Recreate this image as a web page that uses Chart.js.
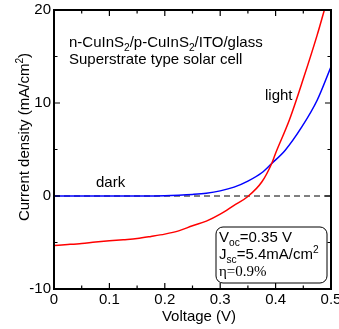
<!DOCTYPE html>
<html>
<head>
<meta charset="utf-8">
<script src="https://cdn.jsdelivr.net/npm/chart.js@4"></script>
<style>
  html, body { margin: 0; padding: 0; background: #fff; }
  #wrap { width: 339px; height: 329px; }
</style>
</head>
<body>
<div id="wrap"><canvas id="ivChart" width="339" height="329"></canvas></div>
<script>
// light (illuminated) J-V curve
const lightV = [0, 0.025, 0.05, 0.075, 0.1, 0.125, 0.15, 0.175, 0.2, 0.225, 0.25, 0.275, 0.3, 0.325, 0.35, 0.375, 0.393, 0.4, 0.425, 0.45, 0.475, 0.488];
const lightJ = [-5.33, -5.22, -5.1, -4.95, -4.82, -4.7, -4.57, -4.35, -4.1, -3.75, -3.2, -2.7, -1.95, -1.0, -0.05, 1.5, 3.5, 4.6, 8.2, 12.6, 17.3, 20];

// dark J-V curve
const darkV = [0, 0.1, 0.2, 0.225, 0.25, 0.275, 0.3, 0.325, 0.35, 0.375, 0.393, 0.417, 0.447, 0.475, 0.5];
const darkJ = [0, 0, 0.04, 0.09, 0.17, 0.3, 0.55, 0.95, 1.6, 2.5, 3.5, 4.9, 7.4, 10.3, 13.9];

// dashed zero reference
const zeroV = [0, 0.5];
const zeroJ = [0, 0];

const xMajor = [0, 0.1, 0.2, 0.3, 0.4, 0.5];
const xMinor = [0.05, 0.15, 0.25, 0.35, 0.45];
const yMajor = [-10, 0, 10, 20];
const yMinor = [-5, 5, 15];

const toPoints = (xs, ys) => xs.map((x, i) => ({ x: x, y: ys[i] }));

const SANS = "'Liberation Sans', Arial, sans-serif";
const SERIF = "'Liberation Serif', 'Times New Roman', serif";

function partStyle(p, size) {
  if (p.sub) return { s: size * 0.68, dy: size * 0.28 };
  if (p.sup) return { s: size * 0.68, dy: -size * 0.42 };
  return { s: size, dy: 0 };
}

// draws a run of text pieces, some of them sub/superscript; returns width
function richText(ctx, parts, x, y, size, family, centred) {
  let w = 0;
  parts.forEach((p) => {
    ctx.font = partStyle(p, size).s + "px " + family;
    w += ctx.measureText(p.t).width;
  });
  let cx = centred ? x - w / 2 : x;
  parts.forEach((p) => {
    const st = partStyle(p, size);
    ctx.font = st.s + "px " + family;
    ctx.fillText(p.t, cx, y + st.dy);
    cx += ctx.measureText(p.t).width;
  });
  return w;
}

const framePlugin = {
  id: "frame",
  afterDraw(chart) {
    const { ctx, chartArea: a, scales: { x, y } } = chart;
    ctx.save();
    ctx.strokeStyle = "#000";
    ctx.lineWidth = 2;
    ctx.strokeRect(a.left, a.top, a.right - a.left, a.bottom - a.top);

    ctx.lineWidth = 1.2;
    ctx.beginPath();
    const tickX = (v, len) => {
      const px = x.getPixelForValue(v);
      ctx.moveTo(px, a.bottom); ctx.lineTo(px, a.bottom - len);
      ctx.moveTo(px, a.top); ctx.lineTo(px, a.top + len);
    };
    const tickY = (v, len) => {
      const py = y.getPixelForValue(v);
      ctx.moveTo(a.left, py); ctx.lineTo(a.left + len, py);
      ctx.moveTo(a.right, py); ctx.lineTo(a.right - len, py);
    };
    xMajor.forEach((v) => tickX(v, 6));
    xMinor.forEach((v) => tickX(v, 3.5));
    yMajor.forEach((v) => tickY(v, 6));
    yMinor.forEach((v) => tickY(v, 3.5));
    ctx.stroke();

    // axis titles
    ctx.fillStyle = "#000";
    ctx.textBaseline = "alphabetic";
    ctx.textAlign = "left";
    richText(ctx, [{ t: "Voltage (V)" }], 199, 321, 15, SANS, true);
    ctx.save();
    ctx.translate(24, 137);
    ctx.rotate(-Math.PI / 2);
    richText(ctx, [{ t: "Current density (mA/cm" }, { t: "2", sup: true }, { t: ")" }], 0, 5, 15, SANS, true);
    ctx.restore();

    // labels
    richText(ctx, [{ t: "n-CuInS" }, { t: "2", sub: true }, { t: "/p-CuInS" }, { t: "2", sub: true }, { t: "/ITO/glass" }], 69, 47, 15, SANS);
    richText(ctx, [{ t: "Superstrate type solar cell" }], 69, 64, 15, SANS);
    richText(ctx, [{ t: "light" }], 265, 100, 15, SANS);
    richText(ctx, [{ t: "dark" }], 96, 187, 15, SANS);

    // result box
    const bx = 216, by = 227, bw = 111, bh = 56;
    ctx.lineWidth = 1;
    ctx.beginPath();
    ctx.roundRect(bx, by, bw, bh, 7);
    ctx.fillStyle = "#fff";
    ctx.fill();
    ctx.stroke();
    ctx.fillStyle = "#000";
    richText(ctx, [{ t: "V" }, { t: "oc", sub: true }, { t: "=0.35 V" }], 219, 242, 15, SANS);
    richText(ctx, [{ t: "J" }, { t: "sc", sub: true }, { t: "=5.4mA/cm" }, { t: "2", sup: true }], 219, 259, 15, SANS);
    richText(ctx, [{ t: "\u03b7=0.9%" }], 219, 276, 15, SERIF);
    ctx.restore();
  }
};

new Chart(document.getElementById("ivChart"), {
  type: "scatter",
  data: {
    datasets: [
      {
        label: "dark",
        data: toPoints(darkV, darkJ),
        showLine: true,
        borderColor: "#0000ff",
        borderWidth: 1.5,
        pointRadius: 0,
        cubicInterpolationMode: "monotone",
        order: 2
      },
      {
        label: "light",
        data: toPoints(lightV, lightJ),
        showLine: true,
        borderColor: "#ff0000",
        borderWidth: 1.5,
        pointRadius: 0,
        cubicInterpolationMode: "monotone",
        order: 1
      },
      {
        label: "zero",
        data: toPoints(zeroV, zeroJ),
        showLine: true,
        borderColor: "#000",
        borderWidth: 1,
        borderDash: [6, 4],
        pointRadius: 0,
        order: 3
      }
    ]
  },
  options: {
    responsive: false,
    animation: false,
    devicePixelRatio: 1,
    layout: { padding: { top: 10, right: 8, left: 0, bottom: 0 }, autoPadding: false },
    plugins: { legend: { display: false }, tooltip: { enabled: false } },
    scales: {
      x: {
        type: "linear",
        min: 0,
        max: 0.5,
        afterFit: (s) => { s.height = 40; s.paddingLeft = 0; s.paddingRight = 0; },
        afterBuildTicks: (s) => { s.ticks = xMajor.map((v) => ({ value: v })); },
        grid: { display: false, drawTicks: false },
        border: { display: false },
        ticks: {
          color: "#000",
          padding: 2,
          maxRotation: 0,
          font: { family: SANS, size: 15 },
          callback: (v) => String(v)
        }
      },
      y: {
        type: "linear",
        min: -10,
        max: 20,
        afterFit: (s) => { s.width = 54; s.paddingTop = 0; s.paddingBottom = 0; },
        afterBuildTicks: (s) => { s.ticks = yMajor.map((v) => ({ value: v })); },
        grid: { display: false, drawTicks: false },
        border: { display: false },
        ticks: {
          color: "#000",
          padding: 3,
          font: { family: SANS, size: 15 }
        }
      }
    }
  },
  plugins: [framePlugin]
});
</script>
</body>
</html>
